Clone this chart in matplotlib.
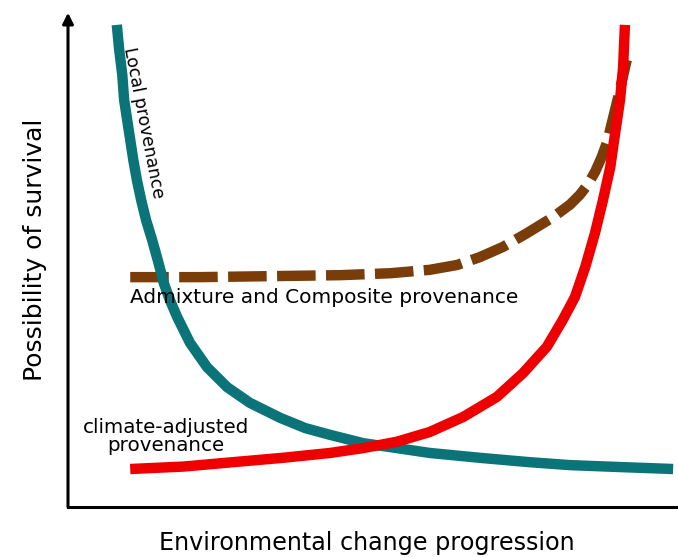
import matplotlib
matplotlib.use("Agg")
import matplotlib.pyplot as plt

# Schematic data (abstract units 0-10)
local_x = [0.80, 0.84, 0.89, 0.92, 0.97, 1.02, 1.07, 1.13, 1.20, 1.28, 1.38, 1.48, 1.57, 1.67, 1.79,
           2.00, 2.28, 2.61, 2.98, 3.48, 3.89, 4.30, 4.84, 5.39, 5.93, 6.75, 7.57, 8.23, 9.05, 9.92]
local_y = [9.90, 9.38, 8.87, 8.36, 7.95, 7.54, 7.13, 6.71, 6.30, 5.89, 5.48, 5.03, 4.60, 4.25, 3.90,
           3.37, 2.87, 2.46, 2.14, 1.83, 1.62, 1.48, 1.31, 1.21, 1.11, 1.01, 0.92, 0.86, 0.82, 0.78]

climate_x = [1.02, 1.89, 2.70, 3.52, 4.30, 4.84, 5.39, 5.93, 6.48, 7.03, 7.46, 7.85, 8.11, 8.31,
             8.48, 8.64, 8.77, 8.89, 8.97, 9.05, 9.10, 9.13]
climate_y = [0.78, 0.83, 0.92, 1.01, 1.11, 1.21, 1.34, 1.54, 1.85, 2.26, 2.75, 3.29, 3.84, 4.31,
             4.93, 5.63, 6.30, 6.98, 7.68, 8.36, 9.03, 9.90]

admix_x = [1.02, 2.16, 3.31, 4.46, 5.28, 5.93, 6.38, 6.75, 7.13, 7.52, 7.95, 8.23, 8.39, 8.52,
           8.64, 8.75, 8.84, 8.92, 9.02, 9.16]
admix_y = [4.72, 4.72, 4.74, 4.76, 4.80, 4.87, 4.97, 5.13, 5.34, 5.62, 5.95, 6.21, 6.41, 6.62,
           6.88, 7.19, 7.50, 7.91, 8.42, 9.18]

W, H = 678, 557
fig = plt.figure(figsize=(W / 100, H / 100), dpi=100)
ax = fig.add_axes([68 / W, (H - 507) / H, 610 / W, 487 / H])
ax.set_xlim(0, 10)
ax.set_ylim(0, 10)
ax.set_xticks([])
ax.set_yticks([])
for s in ["top", "right", "left"]:
    ax.spines[s].set_visible(False)
ax.spines["bottom"].set_linewidth(2.2)

ax.annotate("", xy=(0, 10.15), xytext=(0, 0),
            arrowprops=dict(arrowstyle="-|>", lw=2.2, color="black", mutation_scale=16, shrinkA=0, shrinkB=0),
            annotation_clip=False)

ax.plot(local_x, local_y, color="#0a7479", lw=7.5, solid_capstyle="butt", solid_joinstyle="round",
        zorder=3, clip_on=False)
ax.plot(admix_x, admix_y, color="#7a3c08", lw=7.5, dashes=(3.7, 1.0), dash_capstyle="butt",
        dash_joinstyle="round", zorder=2, clip_on=False)
ax.plot(climate_x, climate_y, color="#ee0000", lw=7.5, solid_capstyle="butt", solid_joinstyle="round",
        zorder=4, clip_on=False)

ax.text(1.23, 7.90, "Local provenance", rotation=-79, rotation_mode="anchor",
        ha="center", va="center", fontsize=12.5, color="black", zorder=5)
ax.text(1.02, 4.31, "Admixture and Composite provenance", ha="left", va="center",
        fontsize=14.5, color="black", zorder=5)
ax.text(1.61, 1.44, "climate-adjusted\nprovenance", ha="center", va="center",
        fontsize=14.3, linespacing=0.95, color="black", zorder=5)

fig.text(367 / W, 1 - 543 / H, "Environmental change progression", ha="center", va="center", fontsize=17.2)
fig.text(35 / W, 1 - 250 / H, "Possibility of survival", ha="center", va="center", rotation=90, fontsize=18)

fig.savefig("out.png", dpi=100, facecolor="white")
